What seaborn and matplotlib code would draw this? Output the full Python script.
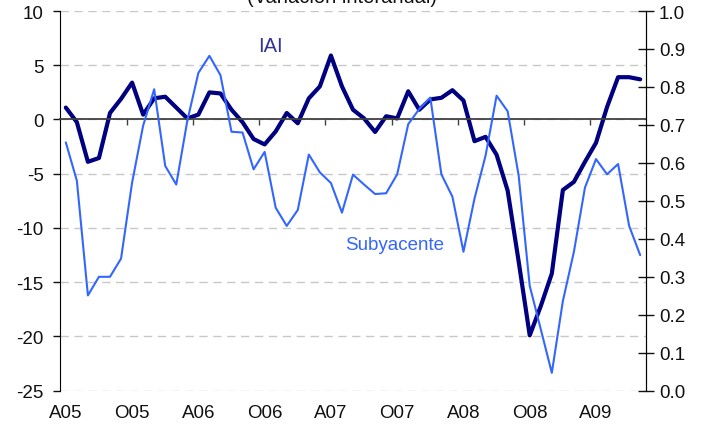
import matplotlib
matplotlib.use("Agg")
import matplotlib.pyplot as plt
import matplotlib.transforms as mtransforms
import seaborn as sns
import pandas as pd
import numpy as np

# Monthly data, April 2005 to August 2009
iai = [1.1, -0.25, -3.9, -3.55, 0.6, 1.9, 3.4, 0.45, 1.95, 2.1,
       1.1, 0.1, 0.45, 2.5, 2.4, 0.9, -0.25, -1.8, -2.3, -1.1,
       0.6, -0.35, 1.95, 3.05, 5.9, 3.05, 0.9, 0.1, -1.15, 0.3,
       0.1, 2.6, 0.9, 1.85, 2.0, 2.7, 1.75, -2.0, -1.6, -3.25,
       -6.55, -13.1, -19.9, -17.2, -14.2, -6.5, -5.75, -3.9, -2.15, 1.15,
       3.9, 3.9, 3.7]
subyacente = [0.654, 0.553, 0.251, 0.300, 0.300, 0.348, 0.548, 0.698, 0.794, 0.592,
              0.543, 0.711, 0.837, 0.882, 0.831, 0.682, 0.680, 0.583, 0.629, 0.482,
              0.434, 0.476, 0.622, 0.575, 0.547, 0.469, 0.569, 0.543, 0.518, 0.520,
              0.570, 0.702, 0.742, 0.772, 0.570, 0.511, 0.366, 0.506, 0.619, 0.777,
              0.736, 0.566, 0.276, 0.162, 0.047, 0.236, 0.366, 0.535, 0.610, 0.570,
              0.597, 0.434, 0.357]
tick_labels = ["A05", "O05", "A06", "O06", "A07", "O07", "A08", "O08", "A09"]
left_ticks = [10, 5, 0, -5, -10, -15, -20, -25]
right_ticks = [0.0, 0.1, 0.2, 0.3, 0.4, 0.5, 0.6, 0.7, 0.8, 0.9, 1.0]

df = pd.DataFrame({"mes": np.arange(len(iai)), "IAI": iai, "Subyacente": subyacente})

sns.set_style("white")
plt.rcParams["font.family"] = ["Liberation Sans", "DejaVu Sans"]

fig = plt.figure(figsize=(7.06, 4.35), dpi=100)
ax = fig.add_axes([0.0854, 0.0995, 0.8292, 0.8729])
ax2 = ax.twinx()

sns.lineplot(data=df, x="mes", y="IAI", ax=ax, color="#000080", linewidth=3.0, sort=False)
sns.lineplot(data=df, x="mes", y="Subyacente", ax=ax2, color="#3366FF", linewidth=1.5, sort=False)

n = len(iai)
ax.set_xlim(-0.5, n - 0.5)
ax.set_ylim(-25, 10)
ax2.set_ylim(0, 1)

# left axis
ax.set_yticks(left_ticks)
ax.set_yticklabels([str(v) for v in left_ticks], fontsize=13.5, color="#111111")
ax.tick_params(axis="y", direction="out", length=5, width=1, pad=7, left=True, colors="#111111")
ax.yaxis.grid(True, color="#c8c8c8", linestyle=(0, (6, 4)), linewidth=1)
ax.set_axisbelow(True)

# right axis
ax2.set_yticks(right_ticks)
ax2.set_yticklabels([f"{v:.1f}" for v in right_ticks], fontsize=13.5, color="#111111")
ax2.tick_params(axis="y", direction="inout", length=11, width=1, pad=4, right=True, colors="#111111")

# zero line carries the x tick marks
ax.spines["bottom"].set_position(("data", 0))
ax.spines["bottom"].set_color("#404040")
ax.spines["bottom"].set_linewidth(1.3)
ax.spines["top"].set_visible(False)
ax.spines["left"].set_color("black")
ax2.spines["top"].set_visible(False)
ax2.spines["bottom"].set_visible(False)
ax2.spines["left"].set_visible(False)
ax2.spines["right"].set_color("black")

label_pos = np.arange(0, n, 6)[:len(tick_labels)]
ax.set_xticks(label_pos[1:] - 0.5)
ax.set_xticklabels([])
ax.tick_params(axis="x", direction="out", length=4.5, width=1, bottom=True, colors="#404040")
trans = mtransforms.blended_transform_factory(ax.transData, ax.transAxes)
for pos, lab in zip(label_pos, tick_labels):
    ax.text(pos, -0.058, lab, transform=trans, ha="center", va="center", fontsize=13.5, color="#111111")

ax.set_xlabel("")
ax.set_ylabel("")
ax2.set_ylabel("")

ax.text(18.5, 6.8, "IAI", color="#333399", fontsize=14.5, ha="center", va="center")
ax2.text(29.8, 0.386, "Subyacente", color="#3366FF", fontsize=13.5, ha="center", va="center")

fig.text(0.485, 1 - 3.3 / 435, "(Variación interanual)", ha="center", va="baseline", fontsize=14.5, color="#111111")

fig.savefig("out.png", dpi=100)
